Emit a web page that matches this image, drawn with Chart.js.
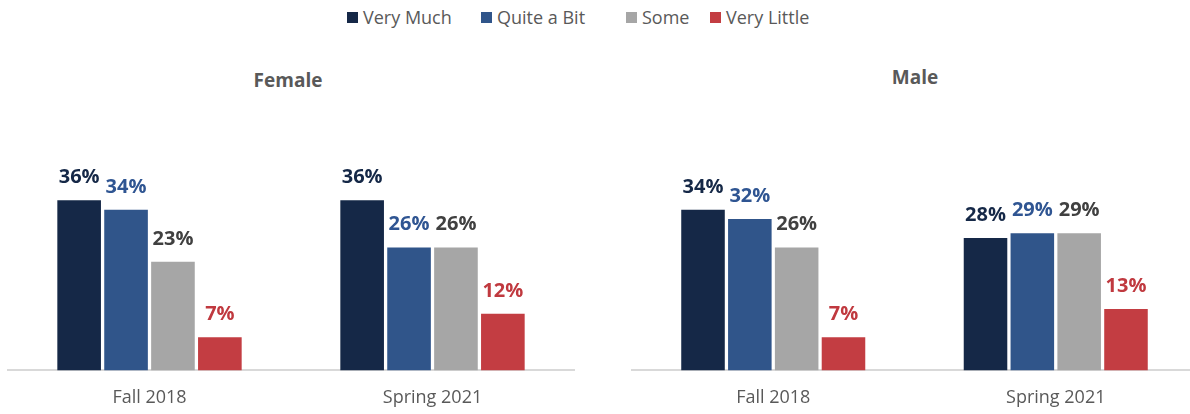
<!DOCTYPE html>
<html>
<head>
<meta charset="utf-8">
<script src="https://cdn.jsdelivr.net/npm/chart.js@4"></script>
<style>
  html, body { margin: 0; padding: 0; background: #fff; overflow: hidden; }
  body { width: 1190px; height: 414px; position: relative; font-family: "Open Sans", sans-serif; }
  .legend-item { position: absolute; top: 8px; height: 18px; font-size: 18px; line-height: 18px; color: #595959; white-space: nowrap; }
  .legend-item .swatch { position: absolute; left: 0; top: 4px; width: 11px; height: 11px; }
  .legend-item .text { position: absolute; left: 16px; top: 0; }
  .panel-title { position: absolute; font-size: 19px; line-height: 19px; font-weight: bold; color: #595959; transform: translateX(-50%); white-space: nowrap; }
  .panel { position: absolute; top: 0; height: 418px; }
</style>
</head>
<body>

<div id="legend"></div>
<div class="panel-title" style="left:288px; top:71px;">Female</div>
<div class="panel-title" style="left:915px; top:68px;">Male</div>

<div class="panel" style="left:0; width:580px;"><canvas id="femaleChart" width="580" height="418"></canvas></div>
<div class="panel" style="left:600px; width:600px;"><canvas id="maleChart" width="600" height="418"></canvas></div>

<script>
// survey periods on the x axis
const periods = ["Fall 2018", "Spring 2021"];
const responses = ["Very Much", "Quite a Bit", "Some", "Very Little"];

// Female, % per response, one value per period
const femaleVeryMuch = [36, 36];
const femaleQuiteABit = [34, 26];
const femaleSome = [23, 26];
const femaleVeryLittle = [7, 12];

// Male
const maleVeryMuch = [34, 28];
const maleQuiteABit = [32, 29];
const maleSome = [26, 29];
const maleVeryLittle = [7, 13];

const barColors = ["#152847", "#30558a", "#a6a6a6", "#c33d42"];
const labelColors = ["#152847", "#2f5592", "#404040", "#c0393f"];

// legend left edges (swatch) along the top
const legendLeft = [347, 481, 626, 710];

const legend = document.getElementById("legend");
responses.forEach((name, i) => {
  const item = document.createElement("div");
  item.className = "legend-item";
  item.style.left = legendLeft[i] + "px";
  item.innerHTML = '<span class="swatch" style="background:' + barColors[i] + '"></span><span class="text">' + name + "</span>";
  legend.appendChild(item);
});

// draws the "36%" labels above each bar
const valueLabels = {
  id: "valueLabels",
  afterDatasetsDraw(chart) {
    const ctx = chart.ctx;
    ctx.save();
    ctx.font = "bold 20px 'Open Sans', sans-serif";
    ctx.textAlign = "center";
    ctx.textBaseline = "alphabetic";
    chart.data.datasets.forEach((ds, i) => {
      const meta = chart.getDatasetMeta(i);
      ctx.fillStyle = labelColors[i];
      meta.data.forEach((bar, j) => {
        ctx.fillText(ds.data[j] + "%", bar.x, bar.y - 17);
      });
    });
    ctx.restore();
  },
};

const makeChart = (id, series, padLeft, padRight) => {
  const ctx = document.getElementById(id).getContext("2d");
  return new Chart(ctx, {
    type: "bar",
    data: {
      labels: periods,
      datasets: series.map((data, i) => ({
        label: responses[i],
        data: data,
        backgroundColor: barColors[i],
        borderWidth: 0,
        categoryPercentage: 0.663,
        barPercentage: 0.93,
      })),
    },
    options: {
      responsive: false,
      animation: false,
      layout: {
        padding: { top: 134, bottom: 0, left: padLeft, right: padRight },
      },
      plugins: {
        legend: { display: false },
        tooltip: { enabled: false },
      },
      scales: {
        x: {
          grid: { display: false },
          border: { display: true, color: "#d9d9d9", width: 2 },
          ticks: {
            color: "#595959",
            padding: 9,
            font: { family: "'Open Sans', sans-serif", size: 18 },
          },
        },
        y: {
          display: false,
          min: 0,
          max: 50,
        },
      },
    },
    plugins: [valueLabels],
  });
};

makeChart("femaleChart", [femaleVeryMuch, femaleQuiteABit, femaleSome, femaleVeryLittle], 8, 6);
makeChart("maleChart", [maleVeryMuch, maleQuiteABit, maleSome, maleVeryLittle], 32, 3);
</script>
</body>
</html>
